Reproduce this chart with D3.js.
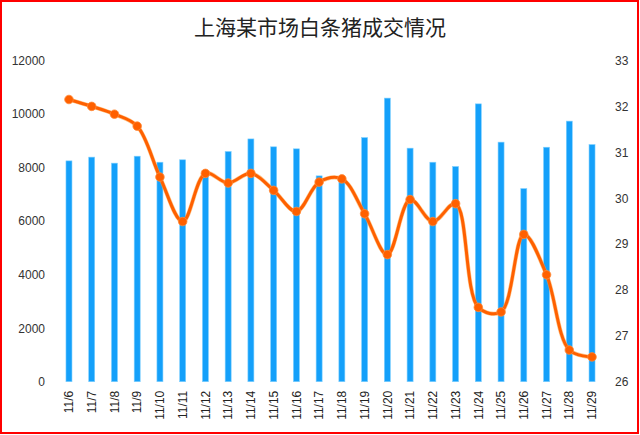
<!DOCTYPE html>
<html><head><meta charset="utf-8">
<script src="https://cdn.jsdelivr.net/npm/d3@7/dist/d3.min.js"></script>
<style>
html,body{margin:0;padding:0;background:#fff;}
svg{display:block;}
text{font-family:"Liberation Sans",Arial,sans-serif;}
</style></head>
<body>
<svg id="chart" width="640" height="435"></svg>
<script>
const title = "上海某市场白条猪成交情况";
const categories = ["11/6","11/7","11/8","11/9","11/10","11/11","11/12","11/13","11/14","11/15","11/16","11/17","11/18","11/19","11/20","11/21","11/22","11/23","11/24","11/25","11/26","11/27","11/28","11/29"];
const volume = [8250,8390,8165,8425,8200,8290,7665,8600,9070,8775,8700,7690,7665,9120,10595,8725,8200,8040,10380,8950,7215,8760,9735,8860];
const price = [32.15,32.0,31.83,31.57,30.46,29.49,30.54,30.33,30.54,30.17,29.71,30.35,30.42,29.66,28.77,29.97,29.49,29.88,27.62,27.52,29.21,28.33,26.69,26.54];
const leftTicks = [0,2000,4000,6000,8000,10000,12000];
const rightTicks = [26,27,28,29,30,31,32,33];

const svg = d3.select("#chart");
svg.append("rect").attr("x",1).attr("y",1).attr("width",637).attr("height",432)
  .attr("fill","#fff").attr("stroke","#ff0000").attr("stroke-width",2);

svg.append("text").attr("x",320).attr("y",35).attr("text-anchor","middle")
  .attr("font-size",21).attr("fill","#222")
  .style("font-family","'Noto Sans CJK SC',sans-serif").text(title);

const x = d3.scaleBand().domain(categories).range([57.6,603.4]).paddingInner(0).paddingOuter(0);
const yL = d3.scaleLinear().domain([0,12000]).range([381.7,60.5]);
const yR = d3.scaleLinear().domain([26,33]).range([381.7,60.5]);

// left axis
const gl = svg.append("g").attr("transform","translate(47,0)")
  .call(d3.axisLeft(yL).tickValues(leftTicks).tickSize(0).tickPadding(2).tickFormat(d3.format("d")));
gl.select(".domain").remove();
gl.selectAll("text").attr("font-size",12).attr("fill","#333").style("font-family","'Liberation Sans',Arial,sans-serif");

// right axis
const gr = svg.append("g").attr("transform","translate(613,0)")
  .call(d3.axisRight(yR).tickValues(rightTicks).tickSize(0).tickPadding(2).tickFormat(d3.format("d")));
gr.select(".domain").remove();
gr.selectAll("text").attr("font-size",12).attr("fill","#333").style("font-family","'Liberation Sans',Arial,sans-serif");

// bottom axis labels
const gb = svg.append("g").attr("transform","translate(0,381.7)")
  .call(d3.axisBottom(x).tickSize(0).tickPadding(0));
gb.select(".domain").remove();
gb.selectAll("text").attr("font-size",12).attr("fill","#222")
  .style("font-family","'Liberation Sans',Arial,sans-serif")
  .attr("text-anchor","end").attr("dy","0.35em")
  .attr("transform","translate(0,9) rotate(-90)").attr("x",0).attr("y",0);

// bars
const bw = 6;
svg.append("g").selectAll("rect").data(volume).join("rect")
  .attr("x",(d,i)=>x(categories[i]) + x.bandwidth()/2 - bw/2)
  .attr("y",d=>yL(d)).attr("width",bw).attr("height",d=>yL(0)-yL(d))
  .attr("fill","#14a0fa").attr("stroke","#7fd0ff").attr("stroke-width",0.6);

// line
const line = d3.line().x((d,i)=>x(categories[i])+x.bandwidth()/2).y(d=>yR(d)).curve(d3.curveCatmullRom.alpha(0.5));
svg.append("path").datum(price).attr("d",line).attr("fill","none")
  .attr("stroke","#ffa040").attr("stroke-width",4.2).attr("stroke-opacity",0.6);
svg.append("path").datum(price).attr("d",line).attr("fill","none")
  .attr("stroke","#ff6000").attr("stroke-width",3);
svg.append("g").selectAll("circle").data(price).join("circle")
  .attr("cx",(d,i)=>x(categories[i])+x.bandwidth()/2).attr("cy",d=>yR(d)).attr("r",4.3)
  .attr("fill","#ff6000").attr("stroke","#ff8c3a").attr("stroke-width",0.8);
</script>
</body></html>
